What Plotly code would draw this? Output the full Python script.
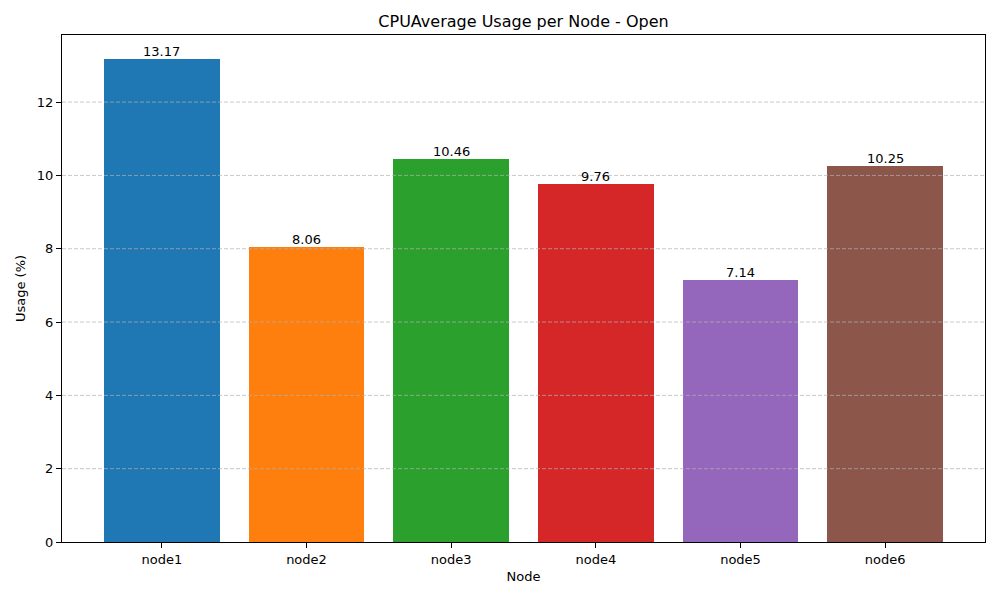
import plotly.graph_objects as go

nodes = ["node1", "node2", "node3", "node4", "node5", "node6"]
usage = [13.17, 8.06, 10.46, 9.76, 7.14, 10.25]
colors = ["#1f77b4", "#ff7f0e", "#2ca02c", "#d62728", "#9467bd", "#8c564b"]
yticks = [0, 2, 4, 6, 8, 10, 12]

fig = go.Figure()
fig.add_trace(go.Bar(x=list(range(len(nodes))), y=usage, marker=dict(color=colors, line=dict(width=0)),
                     width=0.8, showlegend=False))

for i, v in enumerate(usage):
    fig.add_annotation(x=i, y=v, text=f"{v:.2f}", showarrow=False, yanchor="bottom",
                       yshift=-2, font=dict(size=13, color="black", family="DejaVu Sans"))

for t in yticks[1:]:
    fig.add_shape(type="line", xref="paper", x0=0, x1=1, yref="y", y0=t, y1=t, layer="above",
                  line=dict(color="rgba(176,176,176,0.7)", width=1, dash="4px,2px"))

fig.update_layout(
    width=1000, height=600,
    margin=dict(l=54, r=23, t=27, b=66),
    plot_bgcolor="white", paper_bgcolor="white",
    font=dict(family="DejaVu Sans", size=13, color="black"),
    title=dict(text="CPUAverage Usage per Node - Open", x=(54 + 977) / 2 / 1000, xanchor="center",
               y=1 - 13 / 600, yanchor="middle", font=dict(size=16)),
    bargap=0,
)
fig.update_xaxes(range=[-0.69, 5.69], tickmode="array", tickvals=list(range(len(nodes))), ticktext=nodes,
                 showline=True, linecolor="black", linewidth=1, mirror=True, ticks="outside", ticklen=5,
                 tickcolor="black", showgrid=False, zeroline=False,
                 title=dict(text="Node", standoff=6, font=dict(size=13)))
fig.update_yaxes(range=[0, 13.83], tickvals=yticks,
                 showline=True, linecolor="black", linewidth=1, mirror=True, ticks="outside", ticklen=5,
                 tickcolor="black", showgrid=False,
                 zeroline=False, title=dict(text="Usage (%)", standoff=8, font=dict(size=13)))

fig.write_html("out.html")
